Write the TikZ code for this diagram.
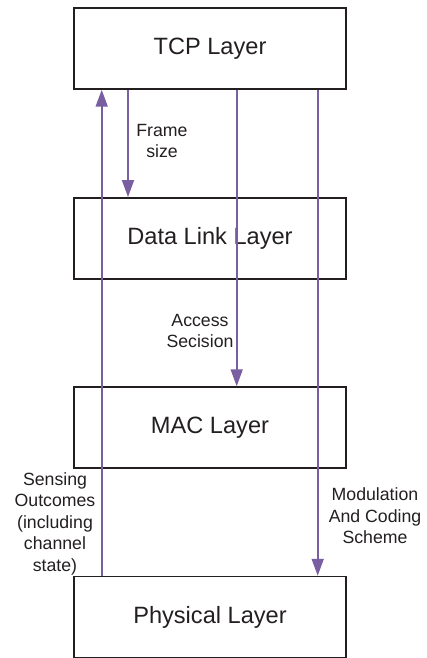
\documentclass[tikz,border=0pt]{standalone}
\usepackage{fontspec}
\setmainfont{Liberation Sans}
\usetikzlibrary{arrows.meta}

\definecolor{flowpurple}{RGB}{121,94,162}
\definecolor{boxgray}{RGB}{35,31,32}

\begin{document}
\begin{tikzpicture}[
        x=1pt, y=-1pt,
        % Define styles for consistency
        layer/.style={draw=boxgray, line width=1.5pt, minimum width=272pt, minimum height=81pt,
            inner sep=0pt, font=\fontsize{23.6}{28}\selectfont, text=boxgray},
        flow/.style={flowpurple, line width=1.8pt, -{Triangle[length=17pt, width=12pt]}},
        note/.style={align=center, inner sep=0pt, font=\fontsize{17.7}{21.5}\selectfont, text=boxgray}
    ]
        \useasboundingbox (0,0) rectangle (426,658);

        % --- Layers ---
        \node[layer] (tcp) at (210,48.5) {TCP Layer};
        \node[layer] (dll) at (210,238.3) {Data Link Layer};
        \node[layer] (mac) at (210,427.5) {MAC Layer};
        \node[layer] (phy) at (210,617) {Physical Layer};

        % --- Arrow lanes ---
        \coordinate (sense) at (101.7,0);
        \coordinate (frame) at (128,0);
        \coordinate (access) at (236.7,0);
        \coordinate (modul) at (317.7,0);

        % --- Arrows ---
        \draw[flow] (phy.north -| sense) -- (tcp.south -| sense);
        \draw[flow] (tcp.south -| frame) -- (dll.north -| frame);
        \draw[flow] (tcp.south -| access) -- (mac.north -| access);
        \draw[flow] (tcp.south -| modul) -- (phy.north -| modul);

        % --- Labels ---
        \node[note] (framelbl) at (162,141) {Frame\\size};
        \node[note] (accesslbl) at (200,331) {Access\\Secision};
        \node[note] (senselbl) at (55,523.5) {Sensing\\Outcomes\\(including\\channel\\state)};
        \node[note] (modullbl) at (375,516) {Modulation\\And Coding\\Scheme};

    \end{tikzpicture}
\end{document}
